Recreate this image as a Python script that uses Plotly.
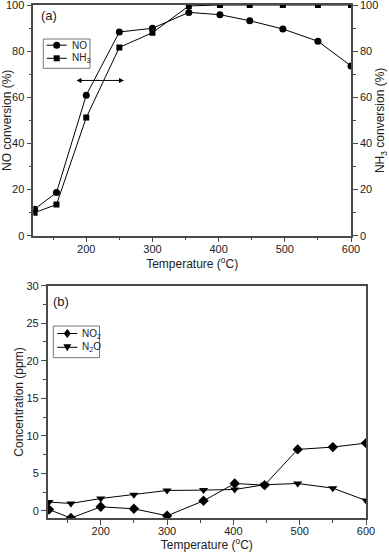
import plotly.graph_objects as go

# temperatures (deg C)
temp = [122, 155, 200, 250, 300, 355, 402, 447, 497, 550, 600]

# (a) conversions (%)
no_conv = [11.5, 18.7, 60.9, 88.3, 89.9, 96.8, 95.8, 93.2, 89.6, 84.3, 73.6]
nh3_conv = [10.0, 13.5, 51.2, 81.6, 88.0, 99.6, 100.0, 100.0, 100.0, 100.0, 100.0]

# (b) by-products (ppm)
no2_ppm = [0.17, -0.97, 0.53, 0.27, -0.67, 1.33, 3.64, 3.42, 8.18, 8.49, 9.02]
n2o_ppm = [1.16, 0.98, 1.64, 2.13, 2.71, 2.76, 2.84, 3.47, 3.64, 3.02, 1.37]

W, H = 389, 552
FONT = "Liberation Sans, Arial, sans-serif"
AX = "#4a4a4a"

def px_x(p):
    return p / W

def px_y(p):
    return 1 - p / H

fig = go.Figure()

line = dict(color="black", width=1)
series = [
    ("NO", no_conv, "circle", 7, "x", "y"),
    ("NH<sub>3</sub>", nh3_conv, "square", 6, "x", "y2"),
    ("NO<sub>2</sub>", no2_ppm, "diamond", 8, "x2", "y3"),
    ("N<sub>2</sub>O", n2o_ppm, "triangle-down", 8, "x2", "y3"),
]
for name, vals, sym, sz, xa_, ya_ in series:
    fig.add_trace(go.Scatter(x=temp, y=vals, name=name, mode="lines+markers",
                             line=line, marker=dict(symbol=sym, size=sz, color="black"),
                             xaxis=xa_, yaxis=ya_, showlegend=False))

tickfont = dict(family=FONT, size=11, color="#222")
titlefont = dict(family=FONT, size=12, color="#222")
common = dict(showline=True, linecolor=AX, linewidth=1.5, ticks="outside", ticklen=5,
              tickcolor=AX, tickwidth=1, showgrid=False, zeroline=False, tickfont=tickfont,
              title_font=titlefont, automargin=False, ticklabeloverflow="allow")

xa = dict(common, range=[120, 600], dtick=100, tick0=0, ticklabelstandoff=-3,
          minor=dict(ticks="outside", ticklen=3, dtick=50, tickcolor=AX),
          title_text="Temperature (<sup>o</sup>C)", title_standoff=0)

top_x = [px_x(33.3), px_x(351)]
top_y = [px_y(235.7), px_y(5)]
bot_x = [px_x(47.7), px_x(366)]
bot_y = [px_y(518.3), px_y(285.7)]

fig.update_layout(
    width=W, height=H, margin=dict(l=0, r=0, t=0, b=0, autoexpand=False),
    paper_bgcolor="white", plot_bgcolor="white",
    font=dict(family=FONT, color="#222"),
    showlegend=False,
    xaxis=dict(xa, domain=top_x, anchor="y", mirror=True),
    yaxis=dict(common, range=[0, 100], dtick=20, domain=top_y, anchor="x",
               minor=dict(ticks="outside", ticklen=3, dtick=10, tickcolor=AX),
               title_text="NO conversion (%)", title_standoff=4),
    yaxis2=dict(common, range=[0, 100], dtick=20, overlaying="y", side="right", anchor="x",
                minor=dict(ticks="outside", ticklen=3, dtick=10, tickcolor=AX),
                title_text="NH<sub>3</sub> conversion (%)", title_standoff=4),
    xaxis2=dict(xa, domain=bot_x, anchor="y3", mirror=True),
    yaxis3=dict(common, range=[-1, 30], dtick=5, tick0=0, domain=bot_y, anchor="x2",
                mirror=True,
                minor=dict(ticks="outside", ticklen=3, dtick=2.5, tickcolor=AX),
                title_text="Concentration (ppm)", title_standoff=0),
)

# panel labels
for txt, cx, cy in [("(a)", 48.7, 15.7), ("(b)", 61, 301.7)]:
    fig.add_annotation(text=txt, xref="paper", yref="paper", x=px_x(cx), y=px_y(cy),
                       xanchor="center", yanchor="middle", showarrow=False,
                       font=dict(family=FONT, size=13, color="#222"))
# double-headed arrow
fig.add_annotation(text="", xref="x", yref="y", axref="x", ayref="y",
                   x=257, y=67.3, ax=183, ay=67.3, showarrow=True,
                   arrowhead=2, startarrowhead=2, arrowside="end+start",
                   arrowsize=1, arrowwidth=1, arrowcolor="black")


def marker_shape(sym, cx, cy, sz):
    # legend sample symbol drawn as a paper-referenced shape (pixel geometry)
    r = sz / 2
    base = dict(xref="paper", yref="paper", fillcolor="black", line=dict(color="black", width=0))
    if sym == "circle":
        return dict(base, type="circle", x0=px_x(cx - r), x1=px_x(cx + r),
                    y0=px_y(cy + r), y1=px_y(cy - r))
    if sym == "square":
        return dict(base, type="rect", x0=px_x(cx - r), x1=px_x(cx + r),
                    y0=px_y(cy + r), y1=px_y(cy - r))
    if sym == "diamond":
        pts = [(cx, cy - r - 0.5), (cx + r - 0.5, cy), (cx, cy + r + 0.5), (cx - r + 0.5, cy)]
    else:
        pts = [(cx - r, cy - r + 1), (cx + r, cy - r + 1), (cx, cy + r)]
    path = "M " + " L ".join(f"{px_x(a):.5f},{px_y(b):.5f}" for a, b in pts) + " Z"
    return dict(base, type="path", path=path)


# compact boxed legends (pixel layout of the reference)
legends = [
    ((43.3, 39, 90, 68.3), [(series[0], 45.2), (series[1], 58.3)], 46.7, 66.7, 69.5),
    ((53.3, 326, 99.5, 357.7), [(series[2], 333.5), (series[3], 347.3)], 57.3, 77.3, 80.0),
]
for (x0, y0, x1, y1), rows, lx0, lx1, tx in legends:
    fig.add_shape(type="rect", xref="paper", yref="paper",
                  x0=px_x(x0), x1=px_x(x1), y0=px_y(y0), y1=px_y(y1),
                  line=dict(color="#777", width=1), fillcolor="white")
    for (name, _, sym, sz, _, _), ry in rows:
        fig.add_shape(type="line", xref="paper", yref="paper",
                      x0=px_x(lx0), x1=px_x(lx1), y0=px_y(ry), y1=px_y(ry),
                      line=dict(color="black", width=1))
        fig.add_shape(marker_shape(sym, (lx0 + lx1) / 2, ry, sz))
        fig.add_annotation(text=name, xref="paper", yref="paper", x=px_x(tx), y=px_y(ry),
                           xanchor="left", yanchor="middle", showarrow=False,
                           font=dict(family=FONT, size=10, color="#222"))

fig.write_html("out.html", config={"displayModeBar": False},
               post_script="document.body.style.margin='0';")
